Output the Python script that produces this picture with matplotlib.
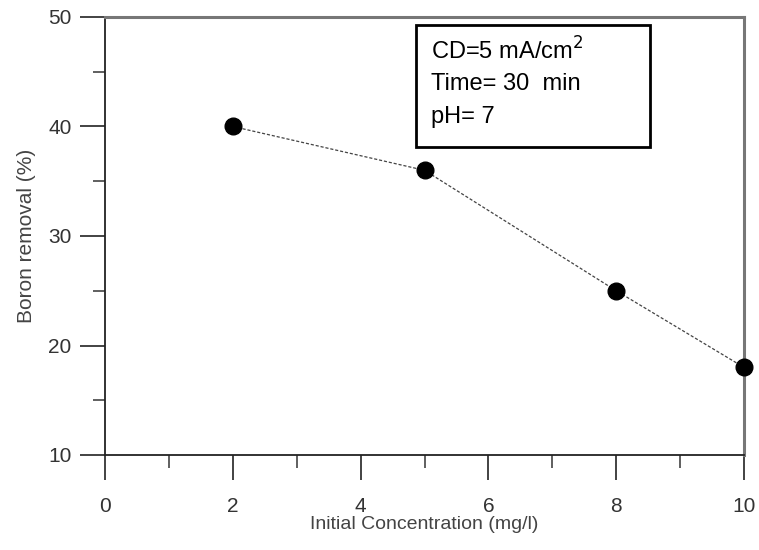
import matplotlib
matplotlib.use('Agg')
from matplotlib.pyplot import subplots
from matplotlib.patches import Rectangle
from matplotlib.ticker import MultipleLocator

## data
conc = [2, 5, 8, 10]
removal = [40, 36, 25, 18]
x_ticks = [0, 2, 4, 6, 8, 10]
y_ticks = [10, 20, 30, 40, 50]
box_lines = ['CD=5 mA/cm$^{2}$', 'Time= 30  min', 'pH= 7']

fig, ax = subplots(figsize=(7.59, 5.5), dpi=100)
ax.set_position([105/759, 1-455/550, (744-105)/759, (455-17)/550])

ax.plot(conc, removal, color='#444444', ls=(0, (2.5, 1.5)), lw=0.9,
        marker='o', ms=12, mfc='black', mec='black', zorder=3, clip_on=False)

ax.set_xlim(0, 10)
ax.set_ylim(10, 50)
ax.set_xticks(x_ticks)
ax.set_yticks(y_ticks)
ax.xaxis.set_minor_locator(MultipleLocator(1))
ax.yaxis.set_minor_locator(MultipleLocator(5))

fs = 15
ax.tick_params(which='major', direction='out', length=18, width=1.2, color='#222222',
               labelsize=fs, labelcolor='#333333', pad=6)
ax.tick_params(which='minor', direction='out', length=9, width=1.2, color='#444444')
ax.tick_params(axis='x', which='major', pad=12)
for lab in ax.get_xticklabels() + ax.get_yticklabels():
    lab.set_family('Liberation Sans')

for s in ['left', 'bottom']:
    ax.spines[s].set_color('#222222')
    ax.spines[s].set_linewidth(1.3)
for s in ['top', 'right']:
    ax.spines[s].set_color('#777777')
    ax.spines[s].set_linewidth(2.2)

ax.set_xlabel('Initial Concentration (mg/l)', fontsize=14, color='#444444',
              family='Liberation Sans', labelpad=0)
ax.set_ylabel('Boron removal (%)', fontsize=15, color='#444444',
              family='Liberation Sans', labelpad=9)

## annotation box
x0, x1 = (416-105)/639, (650-105)/639
y0, y1 = (455-147)/438, (455-25)/438
ax.add_patch(Rectangle((x0, y0), x1-x0, y1-y0, transform=ax.transAxes,
                       fill=False, ec='black', lw=2, zorder=4))
for i, t in enumerate(box_lines):
    ax.text(x0 + 15/639, (455-51-33*i)/438, t, transform=ax.transAxes,
            fontsize=17, family='Liberation Sans', va='center', ha='left', zorder=5)

fig.savefig('out.png')
